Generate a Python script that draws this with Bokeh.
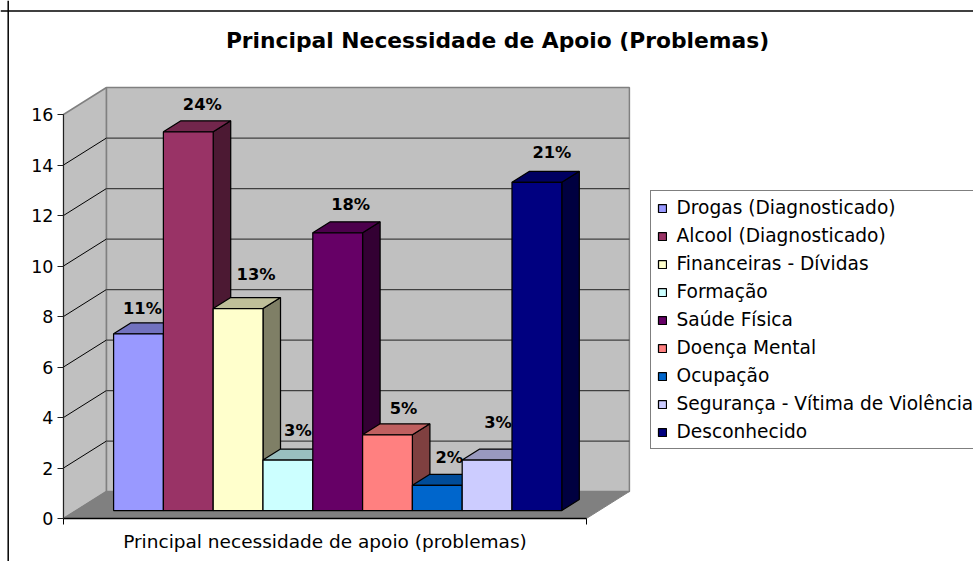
from bokeh.plotting import figure
from bokeh.embed import file_html
from bokeh.resources import INLINE
from bokeh.core.properties import value
from bokeh.models import Range1d, Legend, LegendItem, FixedTicker, LinearAxis, Span

categories = ["Drogas (Diagnosticado)", "Alcool (Diagnosticado)", "Financeiras - Dívidas", "Formação",
              "Saúde Física", "Doença Mental", "Ocupação", "Segurança - Vítima de Violência", "Desconhecido"]
counts = [7, 15, 8, 2, 11, 3, 1, 2, 13]
percent_labels = ["11%", "24%", "13%", "3%", "18%", "5%", "2%", "3%", "21%"]
y_ticks = [0, 2, 4, 6, 8, 10, 12, 14, 16]
x_title = "Principal necessidade de apoio (problemas)"
chart_title = "Principal Necessidade de Apoio (Problemas)"

colors = ["#9999FF", "#993366", "#FFFFCC", "#CCFFFF", "#660066", "#FF8080", "#0066CC", "#CCCCFF", "#000080"]
label_dx = [4, 14, 18, 10, 13, 16, 12, 11, 15]       # px beyond each bar's centre
label_rise = [25.5, 27.5, 34.5, 29.5, 28.5, 26.5, 27.5, 37.5, 29.5]  # px above each bar's front top

FONT_NAME = "DejaVu Sans"
FONT = value(FONT_NAME)
BAR_PX = 49.8
UNIT_PX = 25.25
DEPTH_X = 43 / BAR_PX
DEPTH_Y = 27 / UNIT_PX
X_END = 10.5
X0 = 0.75
D0, D1 = 8 / 27, 19 / 27
W, H = 973, 561
AXIS_X, AXIS_Y = 63, 518   # canvas position of the origin


def shade(c, f):
    r, g, b = int(c[1:3], 16), int(c[3:5], 16), int(c[5:7], 16)
    return "#%02x%02x%02x" % (int(r * f), int(g * f), int(b * f))


def px(x, y, d):
    return x + d * DEPTH_X, y + d * DEPTH_Y


def from_canvas(cx, cy):
    return (cx - AXIS_X) / BAR_PX, (AXIS_Y - cy) / UNIT_PX


x_start, y_end = from_canvas(0, 0)
x_stop, y_start = from_canvas(W, H)

p = figure(width=W, height=H, output_backend="svg", toolbar_location=None,
           x_range=Range1d(x_start, x_stop), y_range=Range1d(y_start, y_end),
           min_border=0, x_axis_type=None, y_axis_type=None)
p.grid.visible = False
p.outline_line_color = None
p.background_fill_color = "white"
p.border_fill_color = "white"

# chart-area border
bl, bt_ = from_canvas(7.7, 10.5)
p.add_layout(Span(location=bl, dimension="height", line_color="black", line_width=1.5))
p.add_layout(Span(location=bt_, dimension="width", line_color="black", line_width=1.5))

tx, ty = from_canvas(497, 40)
p.text([tx], [ty], text=[chart_title], text_font=FONT, text_font_size="21.8px", text_font_style="bold",
       text_color="black", text_align="center", text_baseline="middle")

# walls and floor
wx0, wy0 = px(0, 0, 0)
wx1, wy1 = px(0, 0, 1)
wx2, wy2 = px(0, 16, 1)
wx3, wy3 = px(0, 16, 0)
p.patch([wx0, wx1, wx2, wx3], [wy0, wy1, wy2, wy3], fill_color="#C0C0C0", line_color="#808080", line_width=1.5)
bx, by = px(0, 0, 1)
p.quad(left=[bx], right=[bx + X_END], bottom=[by], top=[by + 16], fill_color="#C0C0C0", line_color="#808080", line_width=1.5)
for t in y_ticks[1:-1]:
    a = px(0, t, 0)
    b = px(0, t, 1)
    c = px(X_END, t, 1)
    p.line([a[0], b[0]], [a[1], b[1]], line_color="black", line_width=1)
    p.line([b[0], c[0]], [b[1], c[1]], line_color="#404040", line_width=1.25)
f = [px(0, 0, 0), px(X_END, 0, 0), px(X_END, 0, 1), px(0, 0, 1)]
p.patch([q[0] for q in f], [q[1] for q in f], fill_color="#808080", line_color="#808080")

# bars
items = []
for i, (cat, v, lab, col, dx, rise) in enumerate(zip(categories, counts, percent_labels, colors, label_dx, label_rise)):
    xl, xr = X0 + i, X0 + i + 1
    fl = px(xl, 0, D0)
    fr = px(xr, 0, D0)
    ft = px(xr, v, D0)
    bt = px(xr, v, D1)
    bb = px(xr, 0, D1)
    blt = px(xl, v, D1)
    flt = px(xl, v, D0)
    p.patch([fr[0], bb[0], bt[0], ft[0]], [fr[1], bb[1], bt[1], ft[1]],
            fill_color=shade(col, 0.5), line_color="black", line_width=1.25)
    p.patch([flt[0], blt[0], bt[0], ft[0]], [flt[1], blt[1], bt[1], ft[1]],
            fill_color=shade(col, 0.75), line_color="black", line_width=1.25)
    r = p.quad(left=[fl[0]], right=[fr[0]], bottom=[fl[1]], top=[flt[1]],
               fill_color=col, line_color="black", line_width=1.25)
    items.append(LegendItem(label=cat, renderers=[r]))
    p.text([(fl[0] + fr[0]) / 2 + dx / BAR_PX], [flt[1] + rise / UNIT_PX], text=[lab],
           text_font=FONT, text_font_size="16.3px", text_font_style="bold", text_color="black",
           text_align="center", text_baseline="middle")

# axes sit on the origin, inside the full-canvas frame
ya = LinearAxis(fixed_location=0)
ya.ticker = FixedTicker(ticks=y_ticks)
ya.bounds = (0, 16)
ya.axis_line_color = "#202020"
ya.major_tick_line_color = "#202020"
ya.major_tick_out = 6
ya.major_tick_in = 0
ya.minor_tick_line_color = None
ya.major_label_text_font = FONT_NAME
ya.major_label_text_font_size = "17.5px"
ya.major_label_text_color = "black"
ya.major_label_standoff = 4
p.add_layout(ya, "left")

xa = LinearAxis(fixed_location=0)
xa.ticker = FixedTicker(ticks=[X_END / 2], minor_ticks=[0, X_END])
xa.major_label_overrides = {X_END / 2: x_title}
xa.bounds = (0, X_END)
xa.axis_line_color = "black"
xa.axis_line_width = 1.5
xa.major_tick_line_color = None
xa.minor_tick_line_color = "black"
xa.minor_tick_out = 6
xa.minor_tick_in = 0
xa.major_label_text_font = FONT_NAME
xa.major_label_text_font_size = "18.5px"
xa.major_label_text_color = "black"
xa.major_label_standoff = 6
p.add_layout(xa, "below")

leg = Legend(items=items, location=(649.5, 112), orientation="vertical",
             border_line_color="black", border_line_width=1, background_fill_color="white", background_fill_alpha=1,
             label_text_font=FONT_NAME, label_text_font_size="18.6px", label_text_color="black",
             glyph_width=10, glyph_height=10, spacing=7, padding=6, margin=0,
             label_standoff=10, label_height=18)
p.add_layout(leg)

open("out.html", "w").write(file_html(p, INLINE))
